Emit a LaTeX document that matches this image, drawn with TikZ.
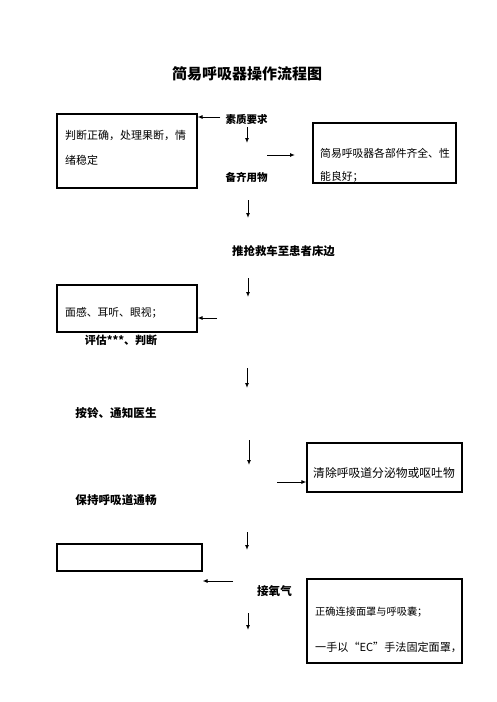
\documentclass[tikz,border=0pt]{standalone}
\usepackage{fontspec}
\newfontfamily\cjk{Noto Sans CJK SC}
\usetikzlibrary{arrows.meta}
\tikzset{
	box/.style={draw, line width=1.1pt, inner sep=0pt},
	boxtext/.style={anchor=west, inner sep=0pt, font=\cjk\fontsize{#1}{12}\selectfont},
	boxtext/.default=11,
	steplabel/.style={inner sep=0pt, font=\cjk\bfseries\fontsize{#1}{12}\selectfont},
	steplabel/.default=11,
	arr/.style={-{Latex[length=5pt,width=4pt]}, line width=1pt}
}

\begin{document}
\begin{tikzpicture}[x=1pt, y=-1pt]
	\useasboundingbox (0,0) rectangle (496,702);

	\node[steplabel=15] (title) at (247,74) {简易呼吸器操作流程图};

	% boxes
	\node[box, minimum width=140, minimum height=74] (quality) at (127,151) {};
	\node[box, minimum width=143, minimum height=60] (equip) at (384.5,153) {};
	\node[box, minimum width=140, minimum height=47] (senses) at (127,308.5) {};
	\node[box, minimum width=155, minimum height=49] (clear) at (384.5,467.5) {};
	\node[box, minimum width=145, minimum height=27] (blank) at (129.5,557.5) {};
	\node[box, minimum width=155, minimum height=84] (mask) at (384.5,621) {};

	\node[boxtext] (quality1) at (65,135) {判断正确，处理果断，情};
	\node[boxtext] (quality2) at (65,160) {绪稳定};
	\node[boxtext=10.8] (equip1) at (320,153) {简易呼吸器各部件齐全、性};
	\node[boxtext=10.8] (equip2) at (320,177) {能良好；};
	\node[boxtext=10.8] (senses1) at (65,313) {面感、耳听、眼视；};
	\node[boxtext=11.8] (clear1) at (313,473) {清除呼吸道分泌物或呕吐物};
	\node[boxtext=10.2] (mask1) at (315,612) {正确连接面罩与呼吸囊；};
	\node[boxtext=11.1] (mask2) at (315,647) {一手以“EC”手法固定面罩，};

	% steps
	\node[steplabel=10.5] (req) at (246.5,119) {素质要求};
	\node[steplabel=10.5] (prep) at (246.5,177) {备齐用物};
	\node[steplabel=11.4] (cart) at (283.5,251) {推抢救车至患者床边};
	\node[steplabel] (assess) at (121,340) {评估***、判断};
	\node[steplabel=11.6] (bell) at (116,413) {按铃、通知医生};
	\node[steplabel=11.6] (airway) at (116,500) {保持呼吸道通畅};
	\node[steplabel=11.6] (oxy) at (274.5,591) {接氧气};

	% arrows
	\foreach \i/\x/\ya/\yb in {1/247/127/143, 2/248/200/218, 3/248/278/297,
		4/247/368/388, 5/249/440/465, 6/247/532/550, 7/248/613/630}{
		\coordinate (down\i top) at (\x,\ya);
		\coordinate (down\i end) at (\x,\yb);
		\draw[arr] (down\i top) -- (down\i end);
	}
	\coordinate (toequip) at (267,155);
	\coordinate (toequip end) at (295,155);
	\coordinate (tosenses) at (217,318);
	\coordinate (toclear) at (277,482);
	\coordinate (toblank) at (233,581);

	\draw[arr] ([xshift=-5pt, yshift=2pt]req.west) -- ([yshift=2pt]req.west -| quality.east);
	\draw[arr] (toequip) -- (toequip end);
	\draw[arr] (tosenses) -- (tosenses -| senses.east);
	\draw[arr] (toclear) -- (toclear -| clear.west);
	\draw[arr] (toblank) -- (toblank -| blank.east);
\end{tikzpicture}
\end{document}
